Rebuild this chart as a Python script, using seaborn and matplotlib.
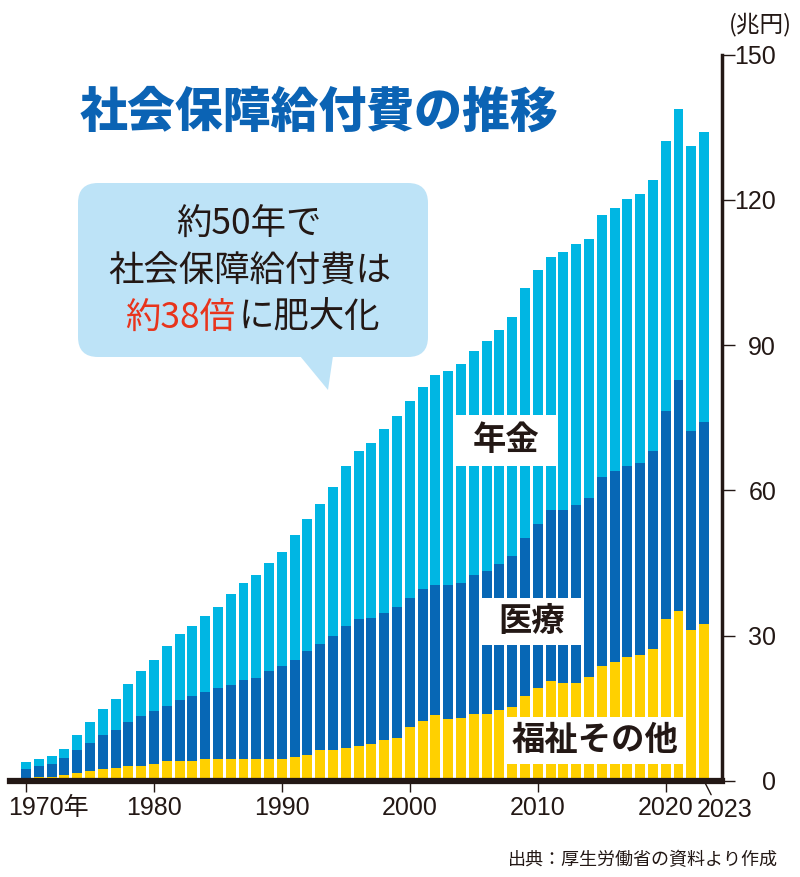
"""社会保障給付費の推移（積み上げ棒グラフ）."""

import matplotlib

matplotlib.use("Agg")
import matplotlib.pyplot as plt  # noqa: E402
import numpy as np  # noqa: E402
import seaborn as sns  # noqa: E402
from matplotlib.patches import FancyBboxPatch, Polygon, Rectangle  # noqa: E402
from matplotlib.transforms import ScaledTranslation  # noqa: E402

# 年度ごとの給付費（兆円）
years = list(range(1970, 2024))
welfare = [0.6, 0.8, 0.8, 1.3, 1.7, 2.1, 2.5, 2.6, 3.1, 3.1,
           3.5, 4.1, 4.1, 4.1, 4.5, 4.5, 4.5, 4.5, 4.5, 4.5,
           4.5, 4.9, 5.4, 6.3, 6.5, 6.9, 7.3, 7.6, 8.4, 8.8,
           11.1, 12.3, 13.6, 12.8, 13.0, 13.8, 13.8, 14.6, 15.3, 17.5,
           19.1, 20.7, 20.3, 20.3, 21.5, 23.8, 24.5, 25.5, 26.0, 27.2,
           33.4, 35.0, 31.2, 32.4]
medical = [1.9, 2.2, 2.8, 3.5, 4.6, 5.7, 6.9, 8.0, 9.1, 10.3,
           10.9, 11.4, 12.7, 13.4, 13.9, 14.6, 15.3, 16.3, 16.8, 18.2,
           19.2, 20.0, 21.5, 22.0, 23.4, 25.0, 26.1, 26.0, 26.2, 27.2,
           26.6, 27.3, 26.8, 27.6, 27.8, 28.8, 29.6, 30.3, 31.2, 32.6,
           34.0, 35.2, 35.6, 36.7, 37.0, 39.0, 39.5, 39.5, 39.7, 41.0,
           42.9, 47.8, 41.0, 41.8]
pension = [1.4, 1.5, 1.6, 1.8, 3.3, 4.3, 5.4, 6.3, 7.9, 9.3,
           10.6, 12.4, 13.5, 14.6, 15.7, 16.9, 18.9, 20.1, 21.2, 22.4,
           23.6, 25.8, 27.1, 28.9, 30.7, 33.1, 34.8, 36.1, 38.1, 39.3,
           40.7, 41.8, 43.5, 44.2, 45.2, 46.2, 47.5, 48.3, 49.4, 51.6,
           52.4, 52.3, 53.3, 53.8, 53.4, 54.0, 54.3, 55.1, 55.4, 55.9,
           55.9, 55.9, 58.9, 59.8]

tick_years = [1970, 1980, 1990, 2000, 2010, 2020]
tick_labels = ["1970年", "1980", "1990", "2000", "2010", "2020"]
y_ticks = [0, 30, 60, 90, 120, 150]

C_PENSION = "#00b6e3"
C_MEDICAL = "#0767b5"
C_WELFARE = "#ffd000"
C_TITLE = "#0b63b4"
C_TEXT = "#231815"
C_BUBBLE = "#bde3f7"
C_RED = "#e8341c"

sns.set_theme(style="white")
plt.rcParams["font.family"] = ["Noto Sans CJK JP", "DejaVu Sans"]
NUM_FONT = ["Liberation Sans", "Noto Sans CJK JP"]

W, H = 800, 877
fig = plt.figure(figsize=(W / 100, H / 100), dpi=100)
ax = fig.add_axes([10 / W, 96 / H, 712 / W, 726.5 / H])

w = np.array(welfare)
m = np.array(medical)
p = np.array(pension)
for heights, color in [(w + m + p, C_PENSION), (w + m, C_MEDICAL), (w, C_WELFARE)]:
    sns.barplot(x=years, y=heights, color=color, width=0.78, saturation=1,
                linewidth=0, errorbar=None, ax=ax)

ax.set_xlim(-1.25, 54.4)
ax.set_ylim(0, 150)
ax.set_xlabel("")
ax.set_ylabel("")

for side in ["left", "top"]:
    ax.spines[side].set_visible(False)
ax.spines["right"].set_linewidth(2.5)
ax.spines["right"].set_color(C_TEXT)
ax.spines["bottom"].set_linewidth(4.5)
ax.spines["bottom"].set_color(C_TEXT)

ax.set_xticks([years.index(y) for y in tick_years], tick_labels)
ax.tick_params(axis="x", bottom=True, length=8, width=1, color=C_TEXT,
               labelcolor=C_TEXT, labelsize=18, pad=3)
ax.yaxis.tick_right()
ax.set_yticks(y_ticks)
ax.tick_params(axis="y", right=True, left=False, length=9, width=1, color=C_TEXT,
               labelcolor=C_TEXT, labelsize=18, pad=30)
for lbl in ax.get_yticklabels():
    lbl.set_ha("right")
    lbl.set_fontfamily(NUM_FONT)
for lbl in ax.get_xticklabels():
    lbl.set_fontfamily(NUM_FONT)
first = ax.get_xticklabels()[0]
first.set_ha("left")
first.set_transform(first.get_transform() + ScaledTranslation(-0.18, 0, fig.dpi_scale_trans))

ax.annotate("2023", xy=(years.index(2023), 0), xytext=(21, -29),
            textcoords="offset pixels", ha="center", va="center",
            fontsize=18, family=NUM_FONT, color=C_TEXT, annotation_clip=False,
            arrowprops=dict(arrowstyle="-", color=C_TEXT, lw=1,
                            shrinkA=0, shrinkB=0, relpos=(0.28, 1.0)))

# 系列ラベル（白抜き）
for x0, x1, y0, y1, text in [(33.55, 41.45, 65.0, 75.6, "年金"),
                             (35.55, 43.45, 28.1, 37.8, "医療"),
                             (37.55, 51.45, 3.5, 13.2, "福祉その他")]:
    ax.add_patch(Rectangle((x0, y0), x1 - x0, y1 - y0, fc="white", ec="none", zorder=3))
    ax.text((x0 + x1) / 2, (y0 + y1) / 2, text, ha="center", va="center",
            fontsize=24, fontweight="bold", color=C_TEXT, zorder=4)


def px(x, y):
    return x / 100, (H - y) / 100


tr = fig.dpi_scale_trans
fig.text(*px(80, 112), "社会保障給付費の推移", transform=tr, ha="left", va="center",
         fontsize=34.5, fontweight="heavy", color=C_TITLE)

# 吹き出し
x0, y0 = px(78, 357)
fig.add_artist(FancyBboxPatch((x0, y0), 3.50, 1.74, transform=tr,
                              boxstyle="round,pad=0,rounding_size=0.2",
                              fc=C_BUBBLE, ec="none"))
fig.add_artist(Polygon([px(300, 356), px(333, 356), px(328, 390)], closed=True,
                       transform=tr, fc=C_BUBBLE, ec="none"))
fig.text(*px(249, 225), "約50年で", transform=tr, ha="center", va="center",
         fontsize=25.5, color=C_TEXT)
fig.text(*px(250, 272), "社会保障給付費は", transform=tr, ha="center", va="center",
         fontsize=25.5, color=C_TEXT)
fig.text(*px(235, 318), "約38倍", transform=tr, ha="right", va="center",
         fontsize=25.5, color=C_RED)
fig.text(*px(239, 318), "に肥大化", transform=tr, ha="left", va="center",
         fontsize=25.5, color=C_TEXT)

fig.text(*px(760, 25), "(兆円)", transform=tr, ha="center", va="center",
         fontsize=17, color=C_TEXT)
fig.text(*px(778, 860), "出典：厚生労働省の資料より作成", transform=tr, ha="right",
         va="center", fontsize=13, color=C_TEXT)

fig.savefig("out.png", dpi=100)
plt.close(fig)
